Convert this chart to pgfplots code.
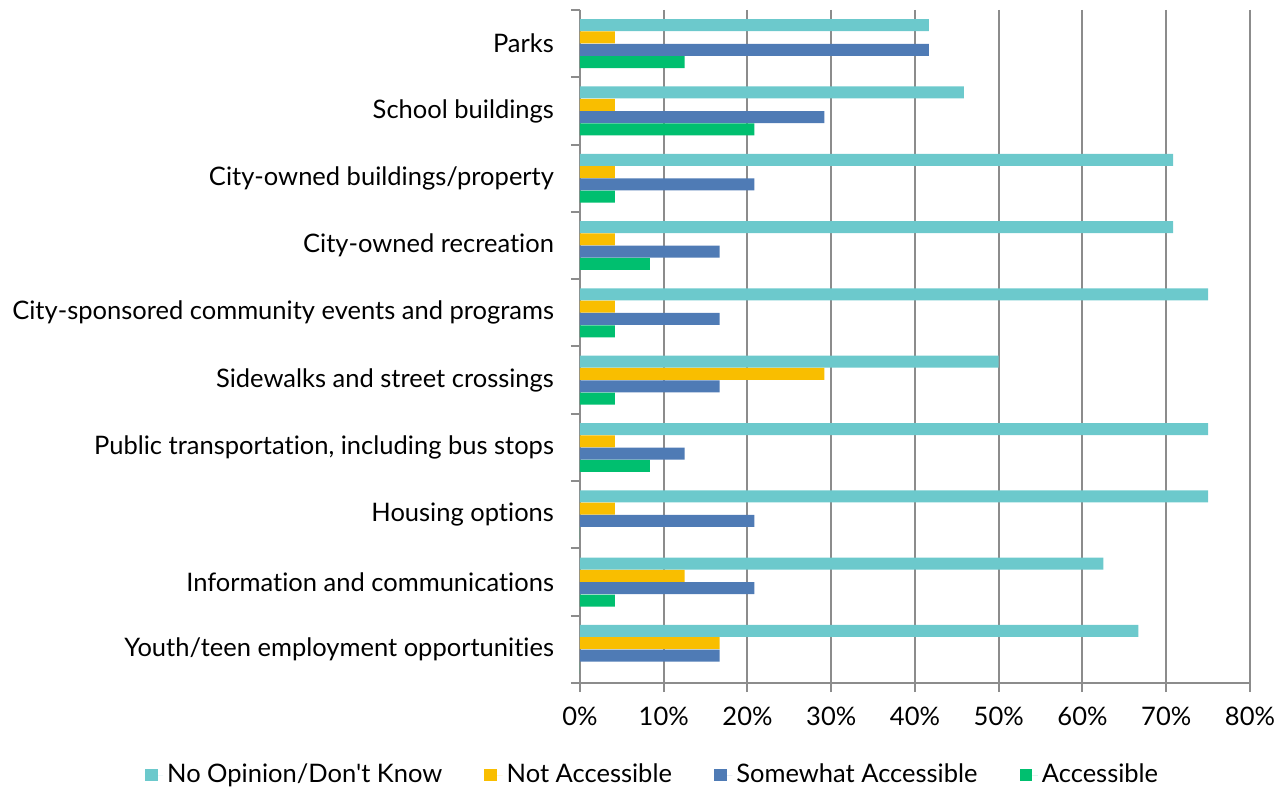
\documentclass[border=0pt]{standalone}
\usepackage{fontspec}
\setmainfont{Lato}[Ligatures={NoCommon,TeXOff}]
\usepackage{pgfplots}
\pgfplotsset{compat=1.18}
\definecolor{cnoop}{HTML}{6CC9CC}
\definecolor{cnot}{HTML}{F9BE00}
\definecolor{csome}{HTML}{4F7BB5}
\definecolor{cacc}{HTML}{00BF6F}
\definecolor{cgrid}{HTML}{8C8C8C}

\begin{document}
\begin{tikzpicture}
\useasboundingbox (-290pt,-54.5pt) rectangle (353.5pt,341.5pt);
\begin{axis}[
    scale only axis, width=335pt, height=336.5pt,
    xbar, bar width=6pt,
    xmin=0, xmax=80, ymin=-0.5, ymax=9.5, y dir=reverse,
    axis lines*=left,
    axis line style={cgrid, line width=1pt},
    every tick/.style={cgrid, line width=1pt},
    tick align=outside, major tick length=4.5pt,
    xmajorgrids, major grid style={cgrid, line width=1pt},
    xtick={0,10,...,80},
    xticklabels={0\%,10\%,20\%,30\%,40\%,50\%,60\%,70\%,80\%},
    ytick={-0.5,0.5,...,9.5},
    yticklabels={Parks,School buildings,City-owned buildings/property,City-owned recreation,City-sponsored community events and programs,Sidewalks and street crossings,{Public transportation, including bus stops},Housing options,Information and communications,Youth/teen employment opportunities,{}},
    y tick label style={yshift=-16.825pt, xshift=-5pt},
    x tick label style={yshift=-4pt},
    tick label style={font=\fontsize{12.75}{15}\selectfont},
    legend image code/.code={\fill[#1] (0pt,-3.2pt) rectangle (6.4pt,3.2pt); \path (6.4pt,0pt) -- (9.2pt,0pt);},
    legend columns=4,
    legend style={at={(0.1097,-0.1367)}, anchor=center, draw=none, fill=none,
        font=\fontsize{12.75}{15}\selectfont,
        /tikz/every even column/.append style={column sep=19pt}},
    legend cell align=left,
]
\addplot[fill=cnoop, draw=none, bar shift=9.225pt] coordinates {
(41.67,0) (45.83,1) (70.83,2) (70.83,3) (75,4) (50,5) (75,6) (75,7) (62.5,8) (66.67,9)};
\addplot[fill=cnot, draw=none, bar shift=3.075pt] coordinates {
(4.17,0) (4.17,1) (4.17,2) (4.17,3) (4.17,4) (29.17,5) (4.17,6) (4.17,7) (12.5,8) (16.67,9)};
\addplot[fill=csome, draw=none, bar shift=-3.075pt] coordinates {
(41.67,0) (29.17,1) (20.83,2) (16.67,3) (16.67,4) (16.67,5) (12.5,6) (20.83,7) (20.83,8) (16.67,9)};
\addplot[fill=cacc, draw=none, bar shift=-9.225pt] coordinates {
(12.5,0) (20.83,1) (4.17,2) (8.33,3) (4.17,4) (4.17,5) (8.33,6) (0,7) (4.17,8) (0,9)};
\legend{No Opinion/Don't Know,Not Accessible,Somewhat Accessible,Accessible}
\end{axis}
\end{tikzpicture}
\end{document}
